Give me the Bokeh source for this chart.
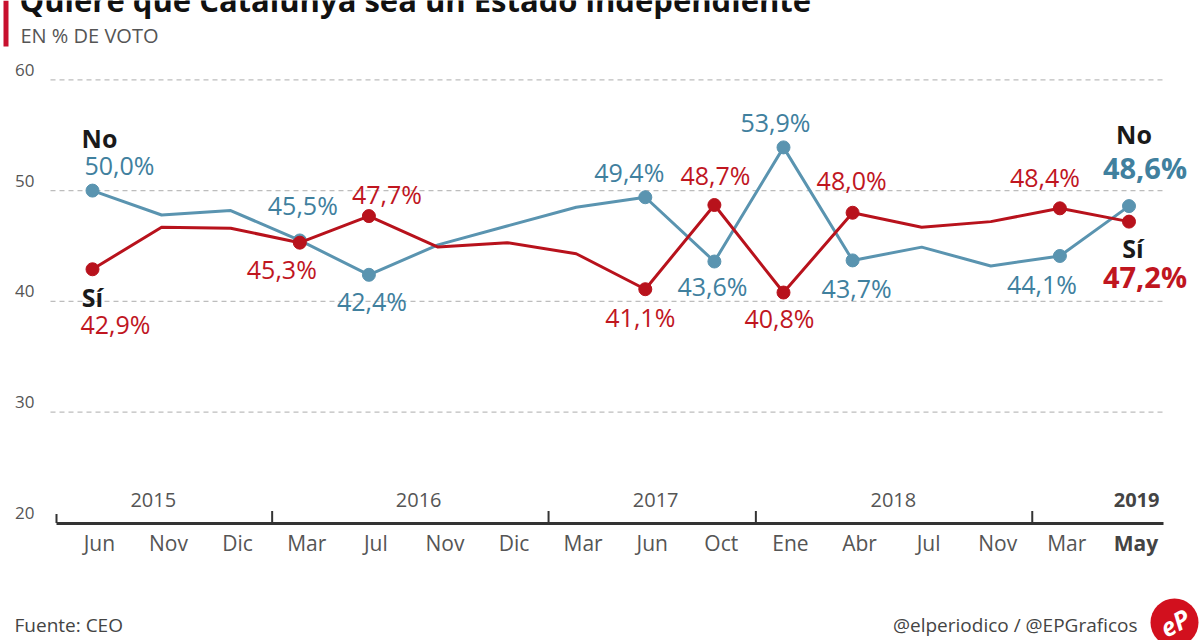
from bokeh.plotting import figure
from bokeh.models import Range1d, LinearAxis, FixedTicker, ColumnDataSource
from bokeh.core.properties import value
from bokeh.embed import file_html
from bokeh.resources import INLINE

# ---------------- data ----------------
title = "Quiere que Catalunya sea un Estado independiente"
subtitle = "EN % DE VOTO"
source_txt = "Fuente: CEO"
credit_txt = "@elperiodico / @EPGraficos"

months = ["Jun", "Nov", "Dic", "Mar", "Jul", "Nov", "Dic", "Mar",
          "Jun", "Oct", "Ene", "Abr", "Jul", "Nov", "Mar", "May"]
years = ["2015", "2016", "2017", "2018", "2019"]
year_sizes = [3, 4, 3, 4, 2]          # surveys grouped under each year label

no_vals = [50.0, 47.8, 48.2, 45.5, 42.4, 45.1, 46.8, 48.5,
           49.4, 43.6, 53.9, 43.7, 44.9, 43.2, 44.1, 48.6]
si_vals = [42.9, 46.7, 46.6, 45.3, 47.7, 44.9, 45.3, 44.3,
           41.1, 48.7, 40.8, 48.0, 46.7, 47.2, 48.4, 47.2]
marked = [0, 3, 4, 8, 9, 10, 11, 14, 15]   # surveys with dot + value label
y_ticks = [20, 30, 40, 50, 60]
grid_vals = [30, 40, 50, 60]

# ---------------- layout / style ----------------
W, H = 1200, 640
PX0, PXS = 92.0, 69.1       # pixel of first category, pixel per category
PY60, PYS = 79.3, 11.08     # pixel of value 60, pixel per unit
x_start, x_end = -PX0 / PXS, (W - PX0) / PXS
y_end, y_start = 60 + PY60 / PYS, 60 - (H - PY60) / PYS


def px_x(px):
    return (px - PX0) / PXS


def px_y(py):
    return 60 - (py - PY60) / PYS


BLUE_L, BLUE_T = "#5a94b0", "#40809e"
RED_L, RED_T = "#b8121c", "#c0161f"
GREY = "#555555"
FONT = value("Open Sans")

# label offsets (dx, dy in px) for each marked point
no_off = [(27, -26), (3, -35), (3, 26), (-16, -25), (-2, 24),
          (-8, -25), (4, 28), (-18, 28), (16, -39)]
si_off = [(23, 55), (-18, 26), (18, -22), (-5, 28), (1, -30),
          (-4, 25), (-1, -33), (-15, -31), (16, 55)]

p = figure(width=W, height=H, x_range=Range1d(x_start, x_end),
           y_range=Range1d(y_start, y_end), output_backend="svg",
           toolbar_location=None, x_axis_location=None, y_axis_location=None,
           min_border=0, outline_line_color=None, background_fill_color="white",
           border_fill_color="white")
p.grid.visible = False

# dashed gridlines
p.segment(x0=[px_x(50)] * len(grid_vals), x1=[15.5] * len(grid_vals),
          y0=grid_vals, y1=grid_vals, line_color="#bdbdbd", line_width=1.2,
          line_dash="5 4")

# y axis labels (shifted up above the gridlines)
p.extra_y_ranges = {"ylab": Range1d(y_start - 0.9, y_end - 0.9)}
yax = LinearAxis(y_range_name="ylab", fixed_location=px_x(44),
                 ticker=FixedTicker(ticks=y_ticks))
yax.axis_line_color = None
yax.major_tick_line_color = None
yax.minor_tick_line_color = None
yax.major_label_standoff = 4
yax.major_label_text_font = "Open Sans"
yax.major_label_text_font_size = "17px"
yax.major_label_text_color = GREY
p.add_layout(yax, "left")

# x axis with month labels
p.extra_x_ranges = {"lab": Range1d(x_start - 0.1, x_end - 0.1)}
overrides = {i: m for i, m in enumerate(months)}
overrides[len(months) - 1] = ""
xax = LinearAxis(x_range_name="lab", fixed_location=20,
                 ticker=FixedTicker(ticks=list(range(len(months)))),
                 major_label_overrides=overrides, bounds=(-0.62, 15.4))
xax.axis_line_color = "#333333"
xax.axis_line_width = 3
xax.major_tick_line_color = None
xax.minor_tick_line_color = None
xax.major_label_standoff = 0
xax.major_label_text_font = "Open Sans"
xax.major_label_text_font_size = "21px"
xax.major_label_text_color = GREY
p.add_layout(xax, "below")

# last month in bold
p.text(x=[len(months) - 1 + 0.1], y=[20], text=[months[-1]], text_font=FONT,
       text_font_size="21px", text_font_style="bold", text_color="#444444",
       text_align="center", text_baseline="middle", y_offset=20)

# year separators
bounds = []
acc = 0
for s in year_sizes[:-1]:
    acc += s
    bounds.append(acc - 0.5 + 0.1)
p.segment(x0=bounds, x1=bounds, y0=[20] * len(bounds),
          y1=[20 + 12 / PYS] * len(bounds), line_color="#333333", line_width=2)
p.segment(x0=[px_x(56)], x1=[px_x(56)], y0=[20], y1=[20 + 9 / PYS],
          line_color="#333333", line_width=2)

# year labels
year_x = [0.88, 4.72, 8.15, 11.59, 15.11]
p.text(x=year_x[:-1], y=[20] * (len(years) - 1), text=years[:-1], text_font=FONT,
       text_font_size="20px", text_color=GREY, text_align="center",
       text_baseline="middle", y_offset=-23)
p.text(x=year_x[-1:], y=[20], text=years[-1:], text_font=FONT,
       text_font_size="20px", text_font_style="bold", text_color="#444444",
       text_align="center", text_baseline="middle", y_offset=-23)

# lines and markers
idx = list(range(len(months)))
p.line(idx, no_vals, line_color=BLUE_L, line_width=3)
p.scatter([idx[i] for i in marked], [no_vals[i] for i in marked], size=13,
          fill_color=BLUE_L, line_color=BLUE_L)
p.line(idx, si_vals, line_color=RED_L, line_width=3)
p.scatter([idx[i] for i in marked], [si_vals[i] for i in marked], size=13,
          fill_color=RED_L, line_color=RED_L)


def fmt(v):
    return f"{v:.1f}".replace(".", ",") + "%"


def add_labels(vals, offs, color):
    last = len(vals) - 1
    reg = [(i, o) for i, o in zip(marked, offs) if i != last]
    src = ColumnDataSource(dict(x=[idx[i] for i, _ in reg], y=[vals[i] for i, _ in reg],
                                t=[fmt(vals[i]) for i, _ in reg],
                                dx=[o[0] for _, o in reg], dy=[o[1] for _, o in reg]))
    p.text(x="x", y="y", text="t", source=src, x_offset="dx", y_offset="dy",
           text_font=FONT, text_font_size="25px", text_color=color,
           text_align="center", text_baseline="middle")
    o = offs[-1]
    p.text(x=[idx[last]], y=[vals[last]], text=[fmt(vals[last])], x_offset=o[0],
           y_offset=o[1], text_font=FONT, text_font_size="29px",
           text_font_style="bold", text_color=color, text_align="center",
           text_baseline="middle")


add_labels(no_vals, no_off, BLUE_T)
add_labels(si_vals, si_off, RED_T)

# series names
p.text(x=[0, len(months) - 1], y=[no_vals[0], no_vals[-1]], text=["No", "No"],
       x_offset=[7, 5], y_offset=[-53, -72], text_font=FONT, text_font_size="25px",
       text_font_style="bold", text_color="#1a1a1a", text_align="center",
       text_baseline="middle")
p.text(x=[0, len(months) - 1], y=[si_vals[0], si_vals[-1]], text=["Sí", "Sí"],
       x_offset=[0, 4], y_offset=[28, 26], text_font=FONT, text_font_size="25px",
       text_font_style="bold", text_color="#1a1a1a", text_align="center",
       text_baseline="middle")

# title block (title runs off the top edge, as in the original)
p.quad(left=[px_x(3)], right=[px_x(8)], top=[y_end], bottom=[px_y(46)],
       fill_color="#c8102e", line_color=None)
p.text(x=[px_x(19)], y=[px_y(-1)], text=[title], text_font=FONT,
       text_font_size="31px", text_font_style="bold", text_color="#111111",
       text_align="left", text_baseline="middle")
p.text(x=[px_x(20)], y=[px_y(35)], text=[subtitle], text_font=FONT,
       text_font_size="20px", text_color=GREY, text_align="left",
       text_baseline="middle")

# footer
p.text(x=[px_x(14)], y=[px_y(624)], text=[source_txt], text_font=FONT,
       text_font_size="19px", text_color="#444444", text_align="left",
       text_baseline="middle")
p.text(x=[px_x(1137)], y=[px_y(624)], text=[credit_txt], text_font=FONT,
       text_font_size="19px", text_color="#444444", text_align="right",
       text_baseline="middle")
p.scatter(x=[px_x(1174)], y=[px_y(622)], size=48, fill_color="#d2101e",
          line_color=None)
p.text(x=[px_x(1174)], y=[px_y(622)], text=["eP"], text_font=FONT,
       text_font_size="25px", text_font_style="bold italic", text_color="white",
       text_align="center", text_baseline="middle", angle=0.5)

open("out.html", "w").write(file_html(p, INLINE))
